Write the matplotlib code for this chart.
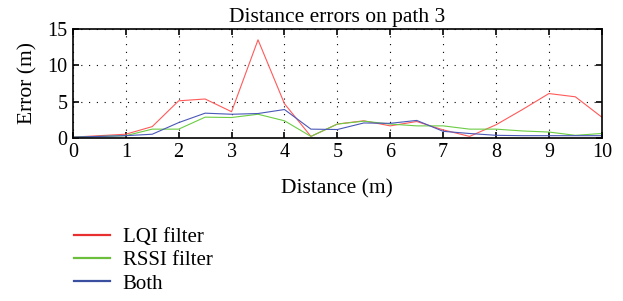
import matplotlib
matplotlib.use('Agg')
import matplotlib.pyplot as plt
import numpy as np

plt.rcParams['font.family'] = ['Liberation Serif', 'DejaVu Serif']

distance = np.arange(0, 10.01, 0.5)
lqi = [0.1, 0.3, 0.5, 1.55, 5.1, 5.35, 3.6, 13.5, 4.7, 0.2, 1.9, 2.35,
       1.65, 2.25, 1.1, 0.2, 1.8, 3.9, 6.1, 5.65, 2.85]
rssi = [0.1, 0.2, 0.3, 1.2, 1.2, 2.85, 2.8, 3.25, 2.35, 0.2, 1.9, 2.3,
        1.9, 1.65, 1.65, 1.2, 1.2, 0.95, 0.8, 0.35, 0.6]
both = [0.1, 0.2, 0.3, 0.5, 2.1, 3.4, 3.25, 3.35, 3.9, 1.2, 1.15, 2.05,
        2.0, 2.4, 0.9, 0.6, 0.35, 0.3, 0.3, 0.3, 0.3]

fig = plt.figure(figsize=(6.23, 3.01), dpi=100)
ax = fig.add_axes([0.117, 0.542, 0.849, 0.362])
l1, = ax.plot(distance, lqi, color='#ff5a5a', linewidth=0.8, label='LQI filter')
l2, = ax.plot(distance, rssi, color='#6ccc44', linewidth=0.8, label='RSSI filter')
l3, = ax.plot(distance, both, color='#4a58b8', linewidth=0.8, label='Both')
ax.set_xlim(0, 10)
ax.set_ylim(0, 15)
ax.set_xticks(range(0, 11))
ax.set_yticks([0, 5, 10, 15])
ax.grid(True, color='black', linestyle=(0, (1, 6)), linewidth=0.8)
ax.tick_params(direction='in', top=True, right=True, length=4, width=1.2, labelsize=14.5, pad=4)
for s in ax.spines.values():
    s.set_linewidth(1.2)
ax.set_title('Distance errors on path 3', fontsize=15.5, pad=5)
ax.set_xlabel('Distance (m)', fontsize=15.5, labelpad=12)
ax.set_ylabel('Error (m)', fontsize=15.5, labelpad=7)

leg = fig.legend([l1, l2, l3], ['LQI filter', 'RSSI filter', 'Both'],
                 loc='upper left', bbox_to_anchor=(0.105, 0.272), frameon=False,
                 fontsize=15, handlelength=1.75, handletextpad=0.6, labelspacing=0.18,
                 borderaxespad=0)
for h, c in zip(leg.get_lines(), ['#e83030', '#6cbf3c', '#3a4fa0']):
    h.set_color(c)
    h.set_linewidth(1.6)

plt.savefig('out.png', dpi=100)
plt.close()
print('Saved: out.png')
